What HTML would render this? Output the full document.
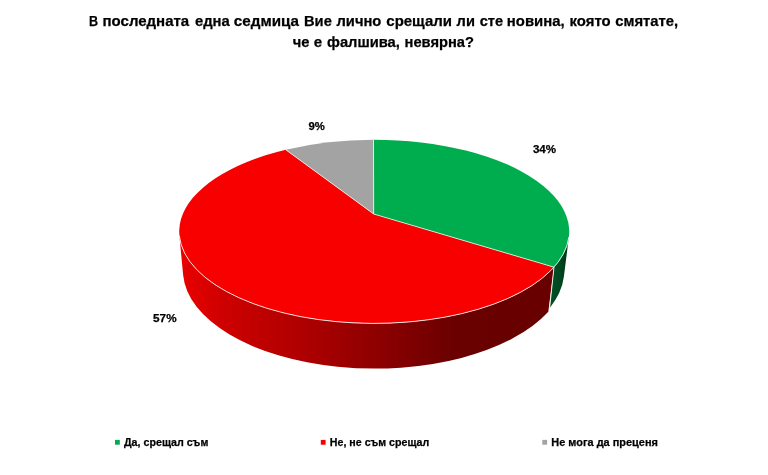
<!DOCTYPE html>
<html lang="bg">
<head>
<meta charset="utf-8">
<title>Диаграма</title>
<style>
html,body{margin:0;padding:0;background:#fff;}
body{width:768px;height:475px;overflow:hidden;}
svg{display:block;}
text{font-family:'Liberation Sans', Arial, sans-serif;font-weight:bold;fill:#000;stroke:#000;stroke-width:0.25px;}
</style>
</head>
<body>
<svg width="768" height="475" viewBox="0 0 768 475">
<defs>
<linearGradient id="rs" gradientUnits="userSpaceOnUse" x1="180" y1="0" x2="570" y2="0">
<stop offset="0" stop-color="#ea0000"/>
<stop offset="0.115" stop-color="#cd0000"/>
<stop offset="0.27" stop-color="#b60000"/>
<stop offset="0.5" stop-color="#8f0000"/>
<stop offset="0.615" stop-color="#7a0000"/>
<stop offset="0.705" stop-color="#6a0000"/>
<stop offset="1" stop-color="#680000"/>
</linearGradient>
<linearGradient id="gs" gradientUnits="userSpaceOnUse" x1="550" y1="0" x2="568" y2="0">
<stop offset="0" stop-color="#005025"/>
<stop offset="0.55" stop-color="#004820"/>
<stop offset="1" stop-color="#003417"/>
</linearGradient>
</defs>
<rect width="768" height="475" fill="#fff"/>
<g>
<path d="M179.39,235.70 L183.13,274.99 A191.7,98.4 0 0 0 548.30,311.83 L554.00,267.14 A195.0,91.8 0 0 1 179.39,235.70 Z" fill="url(#rs)"/>
<path d="M554.00,267.14 L549.60,308.18 A189.7,98.4 0 0 0 563.90,276.58 L568.86,237.00 A195.0,91.8 0 0 1 554.00,267.14 Z" fill="url(#gs)"/>
<path d="M554.00,267.14 L549.60,308.18" stroke="#fff" stroke-opacity="0.85" stroke-width="1" fill="none"/>
<path d="M373.70,214.00 L554.00,267.14 A195.0,91.8 0 1 1 285.78,149.78 Z" fill="#f90000"/>
<path d="M373.70,214.00 L373.50,139.80 A195.0,91.8 0 0 1 554.00,267.14 Z" fill="#00ad4e"/>
<path d="M373.70,214.00 L285.78,149.78 A195.0,91.8 0 0 1 373.50,139.80 Z" fill="#a3a3a3"/>
<path d="M568.86,237.00 A195.0,91.8 0 0 1 179.39,235.70" stroke="#fff" stroke-opacity="0.8" stroke-width="1" fill="none"/>
<path d="M373.50,139.80 L373.70,214.00 L554.00,267.14 M373.70,214.00 L285.78,149.78" stroke="#fff" stroke-opacity="0.8" stroke-width="0.9" fill="none" stroke-linejoin="round"/>
</g>
<g>
<text y="25.8" font-size="15.5"><tspan x="89.0" textLength="9.1" lengthAdjust="spacingAndGlyphs">В</tspan> <tspan x="102.5" textLength="86.7" lengthAdjust="spacingAndGlyphs">последната</tspan> <tspan x="195.0" textLength="34.8" lengthAdjust="spacingAndGlyphs">една</tspan> <tspan x="233.8" textLength="65.2" lengthAdjust="spacingAndGlyphs">седмица</tspan> <tspan x="304.0" textLength="27.8" lengthAdjust="spacingAndGlyphs">Вие</tspan> <tspan x="336.5" textLength="44.8" lengthAdjust="spacingAndGlyphs">лично</tspan> <tspan x="386.3" textLength="65.7" lengthAdjust="spacingAndGlyphs">срещали</tspan> <tspan x="456.6" textLength="18.3" lengthAdjust="spacingAndGlyphs">ли</tspan> <tspan x="479.7" textLength="23.3" lengthAdjust="spacingAndGlyphs">сте</tspan> <tspan x="506.8" textLength="57.8" lengthAdjust="spacingAndGlyphs">новина,</tspan> <tspan x="569.5" textLength="41.1" lengthAdjust="spacingAndGlyphs">която</tspan> <tspan x="615.2" textLength="63.0" lengthAdjust="spacingAndGlyphs">смятате,</tspan></text>
<text y="46.8" font-size="15.5"><tspan x="292.8" textLength="16.7" lengthAdjust="spacingAndGlyphs">че</tspan> <tspan x="313.8" textLength="8.4" lengthAdjust="spacingAndGlyphs">е</tspan> <tspan x="327.0" textLength="72.9" lengthAdjust="spacingAndGlyphs">фалшива,</tspan> <tspan x="404.5" textLength="69.5" lengthAdjust="spacingAndGlyphs">невярна?</tspan></text>
<text x="308.5" y="129.5" font-size="11.5" textLength="16.4" lengthAdjust="spacingAndGlyphs" text-anchor="start">9%</text>
<text x="532.9" y="152.6" font-size="11.5" textLength="23.2" lengthAdjust="spacingAndGlyphs" text-anchor="start">34%</text>
<text x="153.1" y="322.3" font-size="11.5" textLength="23.5" lengthAdjust="spacingAndGlyphs" text-anchor="start">57%</text>
</g>
<g>
<rect x="115" y="439.9" width="4.8" height="4.8" fill="#00ad4e"/>
<text x="124" y="446.2" font-size="11.3" textLength="84.3" lengthAdjust="spacingAndGlyphs" text-anchor="start">Да, срещал съм</text>
<rect x="320.8" y="439.9" width="4.8" height="4.8" fill="#f90000"/>
<text x="329.8" y="446.2" font-size="11.3" textLength="99.4" lengthAdjust="spacingAndGlyphs" text-anchor="start">Не, не съм срещал</text>
<rect x="542.3" y="439.9" width="4.8" height="4.8" fill="#a3a3a3"/>
<text x="551.3" y="446.2" font-size="11.3" textLength="106.6" lengthAdjust="spacingAndGlyphs" text-anchor="start">Не мога да преценя</text>
</g>
</svg>
</body>
</html>
